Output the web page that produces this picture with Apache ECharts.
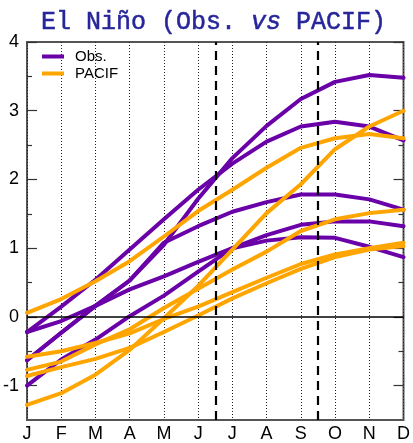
<!DOCTYPE html>
<html>
<head>
<meta charset="utf-8">
<script src="https://cdn.jsdelivr.net/npm/echarts@6/dist/echarts.min.js"></script>
<style>
html,body{margin:0;padding:0;background:#fff;}
#chart{width:413px;height:443px;}
</style>
</head>
<body>
<div id="chart"></div>
<script>
// Month tick labels
const months = ['J','F','M','A','M','J','J','A','S','O','N','D'];
// Observed El Niño events (purple)
const obs1 = [-0.22, 0.15, 0.54, 0.98, 1.42, 1.85, 2.23, 2.55, 2.77, 2.84, 2.77, 2.57];
const obs2 = [-0.63, -0.23, 0.16, 0.53, 1.05, 1.72, 2.31, 2.78, 3.17, 3.42, 3.52, 3.48];
const obs3 = [-0.63, -0.23, 0.16, 0.53, 1.08, 1.32, 1.53, 1.67, 1.78, 1.78, 1.71, 1.56];
const obs4 = [-0.22, -0.06, 0.16, 0.40, 0.59, 0.80, 1.00, 1.19, 1.34, 1.39, 1.39, 1.32];
const obs5 = [-1.00, -0.62, -0.33, 0.01, 0.31, 0.66, 1.00, 1.11, 1.16, 1.15, 1.02, 0.87];
// PACIF model events (orange)
const pac1 = [0.06, 0.26, 0.52, 0.81, 1.17, 1.54, 1.85, 2.17, 2.46, 2.60, 2.66, 2.60];
const pac2 = [-1.28, -1.11, -0.84, -0.48, -0.02, 0.45, 0.98, 1.51, 1.93, 2.44, 2.77, 3.00];
const pac3 = [-0.77, -0.65, -0.40, -0.18, 0.13, 0.41, 0.69, 0.95, 1.25, 1.42, 1.51, 1.56];
const pac4 = [-0.58, -0.50, -0.38, -0.24, -0.03, 0.15, 0.36, 0.57, 0.77, 0.91, 1.00, 1.08];
const pac5 = [-0.86, -0.73, -0.61, -0.45, -0.22, 0.02, 0.27, 0.49, 0.70, 0.87, 0.98, 1.03];
// Y tick values
const yMajorTicks = [-1, 0, 1, 2, 3, 4];
const yMinorTicks = [-0.5, 0.5, 1.5, 2.5, 3.5];
// Reference lines
const zeroLine = 0;
const dashedMonths = [5.5, 8.5];

const obsSets = [obs1, obs2, obs3, obs4, obs5];
const pacSets = [pac1, pac2, pac3, pac4, pac5];
const PURPLE = '#6a00a8';
const ORANGE = '#ffa500';

function mk(name, vals, color) {
  return {
    name: name, type: 'line', symbol: 'none', showSymbol: false,
    data: vals.map((v, i) => [i, v]),
    lineStyle: { color: color, width: 4, cap: 'round', join: 'round' },
    itemStyle: { color: color },
    silent: true, animation: false
  };
}

const series = [];
obsSets.forEach(s => series.push(mk('Obs.', s, PURPLE)));
pacSets.forEach(s => series.push(mk('PACIF', s, ORANGE)));
series[0].markLine = {
  silent: true, symbol: 'none', label: { show: false }, animation: false,
  data: [
    { yAxis: zeroLine, lineStyle: { color: '#000', width: 1.5, type: 'solid' } }
  ].concat(dashedMonths.map(m => ({ xAxis: m, lineStyle: { color: '#000', width: 2.2, type: [9, 6] } })))
};

const labelFont = "'Liberation Sans', Arial, sans-serif";
const titleFont = "'Liberation Mono', 'Courier New', Courier, monospace";
function yAx(pos, ticks, len, showLabel) {
  return {
    type: 'value', min: -1.5, max: 4, position: pos,
    axisLine: { show: false },
    splitLine: { show: false },
    axisTick: { show: true, inside: true, length: len, customValues: ticks, lineStyle: { color: '#333', width: 1.2 } },
    axisLabel: { show: showLabel, customValues: ticks, fontSize: 18, color: '#000', fontFamily: labelFont, margin: 8 }
  };
}

const TITLE_COLOR = '#26269a';
const chart = echarts.init(document.getElementById('chart'), null, { renderer: 'canvas' });
chart.setOption({
  animation: false,
  backgroundColor: '#fff',
  title: {
    text: 'El Niño (Obs. {i|vs} PACIF)',
    left: 36, top: 5,
    textStyle: {
      fontFamily: titleFont, fontSize: 25, fontWeight: 'normal', color: TITLE_COLOR,
      textBorderColor: TITLE_COLOR, textBorderWidth: 0.5,
      rich: { i: { fontFamily: titleFont, fontStyle: 'italic', fontSize: 25, color: TITLE_COLOR, textBorderColor: TITLE_COLOR, textBorderWidth: 0.5 } }
    }
  },
  legend: {
    data: [{ name: 'Obs.', icon: 'rect' }, { name: 'PACIF', icon: 'rect' }],
    orient: 'vertical', left: 37, top: 44,
    itemWidth: 22, itemHeight: 4, itemGap: 2,
    textStyle: { fontSize: 15, color: '#000', fontFamily: labelFont, padding: [0, 0, 0, 6], lineHeight: 15 }
  },
  grid: { left: 25, right: 8, top: 42, bottom: 23, show: true, borderColor: '#555', borderWidth: 2, backgroundColor: 'transparent' },
  xAxis: {
    type: 'value', min: 0, max: 11, interval: 1,
    axisLine: { show: false }, axisTick: { show: false },
    splitLine: { show: true, lineStyle: { color: '#222', width: 1, type: [1, 2] } },
    axisLabel: { formatter: v => months[v] || '', fontSize: 18, color: '#000', fontFamily: labelFont, margin: 5 }
  },
  yAxis: [
    yAx('left', yMajorTicks, 10, true),
    yAx('left', yMinorTicks, 5, false),
    yAx('right', yMajorTicks, 10, false),
    yAx('right', yMinorTicks, 5, false)
  ],
  series: series
});
</script>
</body>
</html>
